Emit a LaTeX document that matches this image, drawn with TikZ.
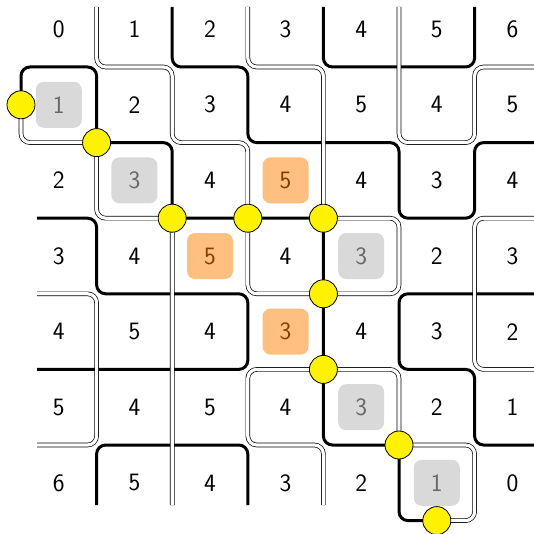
\documentclass[tikz,border=0pt]{standalone}
\usetikzlibrary{calc}
\begin{document}
\begin{tikzpicture}[x=1pt,y=-1pt,
  num/.style={font=\sffamily\fontsize{25}{30}\selectfont, text=black, inner sep=0pt},
  gbox/.style={num, text=black!60, fill=black!15, rounded corners=8pt, minimum size=46pt},
  obox/.style={num, text=orange!50!black, fill=orange!50, rounded corners=8pt, minimum size=46pt},
  thickln/.style={line width=3pt, rounded corners=9pt},
  dbl/.style={draw=black, line width=0.7pt, double=white, double distance=3.2pt, rounded corners=9pt},
  dot/.style={circle, fill=yellow, draw=black, line width=0.8pt, minimum size=28pt, inner sep=0pt}]
\useasboundingbox (0,0) rectangle (534,534);
% grid vertices
\foreach \k in {0,...,7}{
  \foreach \m in {0,...,7}{
    \coordinate (v\k\m) at ({21+75.6*\k},{-8.6+75.6*\m});
  }
  \coordinate (t\k) at ({21+75.6*\k},7);
  \coordinate (b\k) at ({21+75.6*\k},505);
  \coordinate (l\k) at (37,{-8.6+75.6*\k});
  \coordinate (r\k) at (534,{-8.6+75.6*\k});
}
\coordinate (mA) at (21,104.8);
\coordinate (mB) at (436.8,520.6);
% cells
\foreach \r/\c/\v in {0/0/0,0/1/1,0/2/2,0/3/3,0/4/4,0/5/5,0/6/6,
  1/1/2,1/2/3,1/3/4,1/4/5,1/5/4,1/6/5,
  2/0/2,2/2/4,2/4/4,2/5/3,2/6/4,
  3/0/3,3/1/4,3/3/4,3/5/2,3/6/3,
  4/0/4,4/1/5,4/2/4,4/4/4,4/5/3,4/6/2,
  5/0/5,5/1/4,5/2/5,5/3/4,5/5/2,5/6/1,
  6/0/6,6/1/5,6/2/4,6/3/3,6/4/2,6/6/0}
  \node[num] (n\r\c) at ({58.8+75.6*\c},{29.2+75.6*\r}) {\v};
\foreach \r/\c/\v in {1/0/1,2/1/3,3/4/3,5/4/3,6/5/1}
  \node[gbox] (n\r\c) at ({58.8+75.6*\c},{29.2+75.6*\r}) {\v};
\foreach \r/\c/\v in {2/3/5,3/2/5,4/3/3}
  \node[obox] (n\r\c) at ({58.8+75.6*\c},{29.2+75.6*\r}) {\v};
% thick lines
\draw[thickln] (mA) -- (v01) -- (v11) -- (v12);
\draw[thickln] (v12) -- (v22) -- (v23) -- (v33) -- (v43) -- (v44) -- (v45) -- (v46) -- (v56) -- (v57) -- (mB);
\draw[thickln] (t2) -- (v21) -- (v31) -- (v32) -- (v42) -- (v52) -- (v53) -- (v63) -- (v62) -- (r2);
\draw[thickln] (t4) -- (v41) -- (v61) -- (t6);
\draw[thickln] (l3) -- (v13) -- (v14) -- (v34) -- (v35) -- (l5);
\draw[thickln] (r4) -- (v54) -- (v55) -- (v65) -- (v66) -- (r6);
\draw[thickln] (b1) -- (v16) -- (v36) -- (b3);
% double lines
\draw[dbl] (mA) -- (v02) -- (v12);
\draw[dbl] (t1) -- (v11) -- (v21) -- (v22) -- (v32) -- (v33);
\draw[dbl] (v12) -- (v13) -- (v23) -- (b2);
\draw[dbl] (t3) -- (v31) -- (v41) -- (v43);
\draw[dbl] (v33) -- (v34) -- (v44) -- (v54) -- (v53) -- (v43);
\draw[dbl] (t5) -- (v52) -- (v62) -- (v61) -- (r1);
\draw[dbl] (l4) -- (v14) -- (v16) -- (l6);
\draw[dbl] (r3) -- (v63) -- (v65) -- (r5);
\draw[dbl] (v45) -- (v55) -- (v56);
\draw[dbl] (v45) -- (v35) -- (v36) -- (v46) -- (b4);
\draw[dbl] (v56) -- (v66) -- (v67) -- (mB);
% yellow dots
\foreach \p in {mA,v12,v23,v33,v43,v44,v45,v56,mB}
  \node[dot] (d\p) at (\p) {};
\end{tikzpicture}
\end{document}
